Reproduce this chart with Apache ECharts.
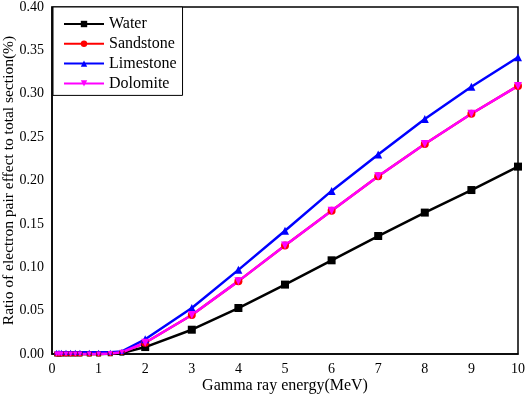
<!DOCTYPE html>
<html>
<head>
<meta charset="utf-8">
<script src="https://cdn.jsdelivr.net/npm/echarts@6/dist/echarts.min.js"></script>
<style>
  html, body { margin: 0; padding: 0; background: #fff; }
  #chart { width: 526px; height: 394px; }
</style>
</head>
<body>
<div id="chart"></div>
<script>
// Gamma ray energy (MeV)
var energy    = [0.1, 0.15, 0.2, 0.3, 0.4, 0.5, 0.6, 0.8, 1.0, 1.25, 1.5, 2, 3, 4, 5, 6, 7, 8, 9, 10];
// Ratio of pair effect to total section (%)
var water     = [0, 0, 0, 0, 0, 0, 0, 0, 0, 0.0003, 0.001, 0.008, 0.028, 0.053, 0.080, 0.108, 0.136, 0.163, 0.189, 0.216];
var sandstone = [0, 0, 0, 0, 0, 0, 0, 0, 0, 0.0005, 0.002, 0.013, 0.045, 0.084, 0.125, 0.165, 0.205, 0.242, 0.277, 0.309];
var limestone = [0.002, 0.002, 0.002, 0.002, 0.002, 0.002, 0.002, 0.002, 0.002, 0.002, 0.003, 0.017, 0.053, 0.097, 0.142, 0.188, 0.230, 0.271, 0.308, 0.342];
var dolomite  = [0, 0, 0, 0, 0, 0, 0, 0, 0, 0.0005, 0.002, 0.013, 0.045, 0.084, 0.125, 0.165, 0.205, 0.242, 0.277, 0.309];

var xTicks = [0, 1, 2, 3, 4, 5, 6, 7, 8, 9, 10];

function pairs(ys) {
  return energy.map(function (x, i) { return [x, ys[i]]; });
}

var FONT = '"Liberation Serif", "Times New Roman", serif';

function mkSeries(name, ys, color, symbol, rot) {
  return {
    name: name,
    type: 'line',
    data: pairs(ys),
    symbol: symbol,
    // markers near the axis are mostly hidden in the original
    symbolSize: function (v) { return v[0] < 1.6 ? 5 : 8; },
    symbolRotate: rot || 0,
    showAllSymbol: true,
    lineStyle: { color: color, width: 2.5 },
    itemStyle: { color: color },
    emphasis: { disabled: true },
    clip: false
  };
}

var chart = echarts.init(document.getElementById('chart'));
chart.setOption({
  animation: false,
  grid: {
    left: 52, right: 8, top: 7, bottom: 40,
    outerBoundsMode: 'none',
    containLabel: false,
    show: true, borderColor: '#000', borderWidth: 1.5
  },
  legend: {
    orient: 'vertical',
    left: 53, top: 7,
    padding: [9, 6, 4, 10],
    itemWidth: 40, itemHeight: 8, itemGap: 3.8,
    borderColor: '#000', borderWidth: 1,
    backgroundColor: '#fff',
    textStyle: { fontFamily: FONT, fontSize: 16, color: '#000' },
    data: ['Water', 'Sandstone', 'Limestone', 'Dolomite']
  },
  xAxis: {
    type: 'value',
    min: 0, max: 10, interval: 1,
    name: 'Gamma ray energy(MeV)',
    nameLocation: 'middle',
    nameGap: 24,
    nameMoveOverlap: false,
    nameTextStyle: { fontFamily: FONT, fontSize: 16, color: '#000' },
    axisLine: { lineStyle: { color: '#000', width: 1.5 } },
    axisTick: { show: false },
    splitLine: { show: false },
    axisLabel: {
      fontFamily: FONT, fontSize: 14, color: '#000', margin: 8,
      formatter: function (v) { return xTicks.indexOf(v) >= 0 ? String(v) : ''; }
    }
  },
  yAxis: {
    type: 'value',
    min: 0, max: 0.4, interval: 0.05,
    name: 'Ratio of electron pair effect to total section(%)',
    nameLocation: 'middle',
    nameGap: 35,
    nameMoveOverlap: false,
    nameTextStyle: { fontFamily: FONT, fontSize: 15.5, color: '#000' },
    axisLine: { show: true, lineStyle: { color: '#000', width: 1.5 } },
    axisTick: { show: false },
    splitLine: { show: false },
    axisLabel: {
      fontFamily: FONT, fontSize: 14, color: '#000', margin: 8,
      formatter: function (v) { return v.toFixed(2); }
    }
  },
  series: [
    mkSeries('Water', water, '#000000', 'rect'),
    mkSeries('Sandstone', sandstone, '#ff0000', 'circle'),
    mkSeries('Limestone', limestone, '#0000ff', 'triangle'),
    mkSeries('Dolomite', dolomite, '#ff00ff', 'triangle', 180)
  ]
});
</script>
</body>
</html>
